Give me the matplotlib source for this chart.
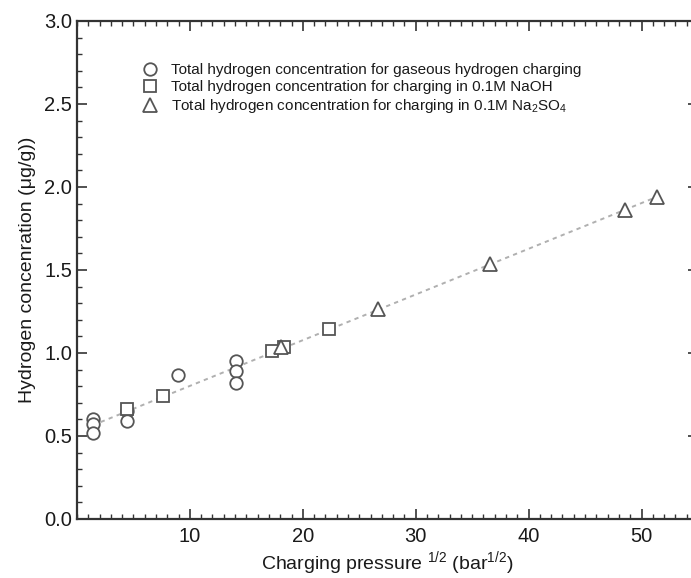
import numpy as np
import matplotlib
matplotlib.use("Agg")
import matplotlib.pyplot as plt
from matplotlib.ticker import MultipleLocator

plt.rcParams['font.family'] = ['Liberation Sans', 'DejaVu Sans']
plt.rcParams['mathtext.fontset'] = 'custom'
plt.rcParams['mathtext.rm'] = 'Liberation Sans'
plt.rcParams['mathtext.it'] = 'Liberation Sans:italic'

# sqrt(pressure) vs total hydrogen concentration
gas_x = [1.4, 1.4, 1.4, 4.4, 4.4, 8.95, 14.1, 14.1, 14.1]
gas_y = [0.60, 0.57, 0.52, 0.65, 0.59, 0.87, 0.95, 0.89, 0.82]

naoh_x = [4.4, 7.6, 17.3, 18.3, 22.3]
naoh_y = [0.66, 0.74, 1.01, 1.035, 1.145]

na2so4_x = [18.1, 26.7, 36.6, 48.5, 51.4]
na2so4_y = [1.035, 1.265, 1.535, 1.86, 1.94]

labels = [
    'Total hydrogen concentration for gaseous hydrogen charging',
    'Total hydrogen concentration for charging in 0.1M NaOH',
    'Total hydrogen concentration for charging in 0.1M Na$_2$SO$_4$',
]

edge = '#555555'
text_c = '#1a1a1a'

fig = plt.figure(figsize=(6.91, 5.78), dpi=100)
ax = fig.add_axes([0.1114, 0.1021, 0.8987, 0.8616])

# linear fit through all points
all_x = np.array(gas_x + naoh_x + na2so4_x)
all_y = np.array(gas_y + naoh_y + na2so4_y)
k, b = np.polyfit(all_x, all_y, 1)
fx = np.array([all_x.min(), all_x.max()])
ax.plot(fx, k * fx + b, color='#b0b0b0', lw=1.4, ls=(0, (2.2, 2.2)), zorder=1)

mk = dict(ls='none', mfc='white', mec=edge, mew=1.3, ms=9, zorder=3)
ax.plot(gas_x, gas_y, marker='o', label=labels[0], **mk)
ax.plot(naoh_x, naoh_y, marker='s', label=labels[1], **dict(mk, ms=8.5))
ax.plot(na2so4_x, na2so4_y, marker='^', label=labels[2], **dict(mk, ms=10))

ax.set_xlim(0, 55)
ax.set_ylim(0, 3.0)
ax.xaxis.set_minor_locator(MultipleLocator(1))
ax.yaxis.set_minor_locator(MultipleLocator(0.1))
ax.set_xticks([10, 20, 30, 40, 50])
ax.set_yticks(np.arange(0, 3.01, 0.5))
ax.set_yticklabels(['%.1f' % v for v in np.arange(0, 3.01, 0.5)])

ax.tick_params(which='both', direction='in', top=True, right=True, colors='#333333',
               labelcolor=text_c, labelsize=14.5)
ax.tick_params(which='major', length=7, width=1.2)
ax.tick_params(which='minor', length=3.5, width=1.0)
ax.tick_params(axis='x', pad=6)
for s in ax.spines.values():
    s.set_color('#333333')
    s.set_linewidth(1.6)

ax.set_xlabel('Charging pressure $^{1/2}$ (bar$^{1/2}$)', fontsize=14, color=text_c, labelpad=2)
ax.set_ylabel('Hydrogen concenration (\u03bcg/g))', fontsize=14, color=text_c, labelpad=6)

ax.legend(loc='upper left', bbox_to_anchor=(0.086, 0.937), frameon=False, fontsize=11,
          handletextpad=0.75, labelspacing=0.2, handlelength=1.2, labelcolor=text_c,
          borderpad=0.2)

fig.savefig('out.png', dpi=100)
